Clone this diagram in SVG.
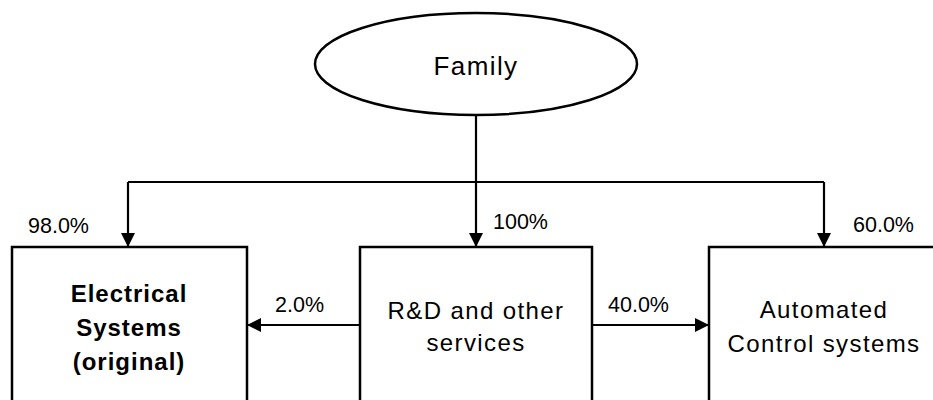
<svg xmlns="http://www.w3.org/2000/svg" width="933" height="400" viewBox="0 0 933 400">
  <style>
    .shape { fill: #ffffff; stroke: #000000; stroke-width: 2.5; }
    .link { fill: none; stroke: #000000; stroke-width: 2.2; }
    .lbl { font-family: "Liberation Sans", Arial, sans-serif; font-size: 21.5px; fill: #000000; }
    .txt { font-family: "Liberation Sans", Arial, sans-serif; font-size: 24px; fill: #000000; text-anchor: middle; letter-spacing: 1.4px; }
    .bold { font-weight: bold; letter-spacing: 1px; }
  </style>
  <defs>
    <marker id="arrow" viewBox="0 0 14 14" refX="14" refY="7" markerWidth="14" markerHeight="14" markerUnits="userSpaceOnUse" orient="auto">
      <path d="M0,0 L14,7 L0,14 Z" fill="#000000"/>
    </marker>
  </defs>

  <!-- Holding entity -->
  <g id="family">
    <ellipse class="shape" cx="476" cy="64" rx="161" ry="51"/>
    <text class="txt" x="476" y="75" style="font-size:26px">Family</text>
  </g>

  <!-- Subsidiaries -->
  <g id="electrical">
    <rect class="shape" x="12" y="247" width="235" height="170"/>
    <text class="txt bold" x="129" y="302">Electrical</text>
    <text class="txt bold" x="129" y="336">Systems</text>
    <text class="txt bold" x="129" y="370">(original)</text>
  </g>
  <g id="rnd">
    <rect class="shape" x="360" y="247" width="232" height="170"/>
    <text class="txt" x="476" y="319">R&amp;D and other</text>
    <text class="txt" x="476" y="351">services</text>
  </g>
  <g id="automated">
    <rect class="shape" x="709" y="247" width="240" height="170"/>
    <text class="txt" x="824" y="318">Automated</text>
    <text class="txt" x="824" y="352">Control systems</text>
  </g>

  <!-- Ownership connectors -->
  <g id="connectors">
    <path class="link" d="M476,115 L476,182"/>
    <path class="link" d="M128,182 L824,182"/>
    <path class="link" d="M128,182 L128,247" marker-end="url(#arrow)"/>
    <path class="link" d="M476,182 L476,247" marker-end="url(#arrow)"/>
    <path class="link" d="M824,182 L824,247" marker-end="url(#arrow)"/>
    <path class="link" d="M360,325 L247,325" marker-end="url(#arrow)"/>
    <path class="link" d="M592,325 L709,325" marker-end="url(#arrow)"/>
  </g>

  <!-- Ownership shares -->
  <g id="labels">
    <text class="lbl" x="28" y="233">98.0%</text>
    <text class="lbl" x="493" y="229">100%</text>
    <text class="lbl" x="853" y="232">60.0%</text>
    <text class="lbl" x="275" y="312">2.0%</text>
    <text class="lbl" x="608" y="312">40.0%</text>
  </g>
</svg>
